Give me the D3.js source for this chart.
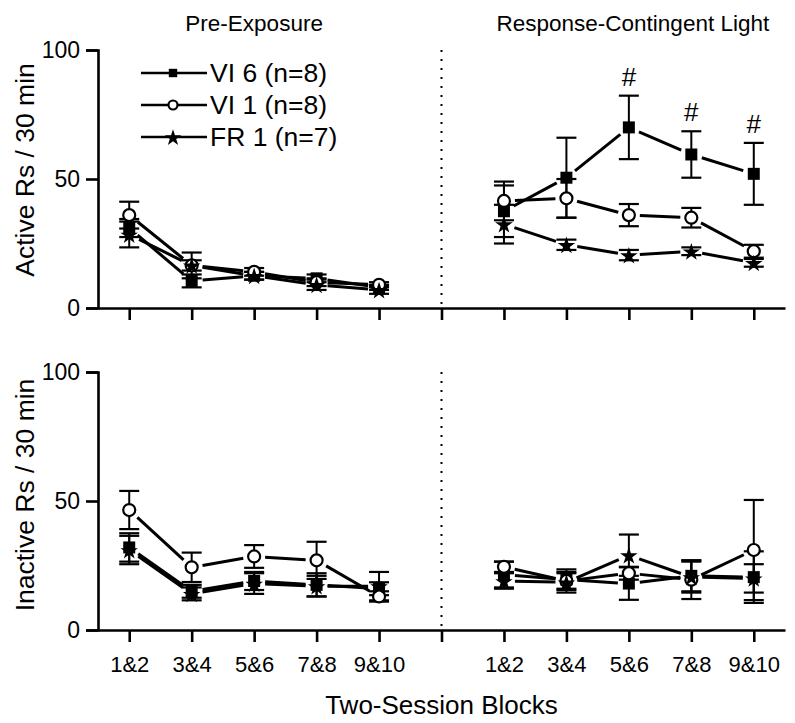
<!DOCTYPE html>
<html>
<head>
<meta charset="utf-8">
<script src="https://cdn.jsdelivr.net/npm/d3@7"></script>
<style>
  html, body { margin: 0; padding: 0; background: #fff; }
  svg { display: block; font-family: "Liberation Sans", Arial, sans-serif; }
</style>
</head>
<body>
<svg id="chart" width="795" height="723"></svg>
<script>
// ---------------- DATA ----------------
const blocks = ["1&2", "3&4", "5&6", "7&8", "9&10"];
const phases = ["Pre-Exposure", "Response-Contingent Light"];
const seriesNames = ["VI 6 (n=8)", "VI 1 (n=8)", "FR 1 (n=7)"];
const yTicks = [0, 50, 100];
const yLabels = ["Active Rs / 30 min", "Inactive Rs / 30 min"];
const xTitle = "Two-Session Blocks";

// Active responses, Pre-Exposure
const actPreVI6 = [31, 10.5, 12.5, 11.5, 8];
const actPreVI6Sem = [3.5, 2.5, 1.5, 1.5, 1];
const actPreVI1 = [36, 16.5, 14, 10, 9];
const actPreVI1Sem = [5.2, 5, 1.5, 1.5, 1];
const actPreFR1 = [28.5, 16.5, 12.5, 9, 7];
const actPreFR1Sem = [5, 2, 1.5, 2, 1.5];

// Active responses, Response-Contingent Light
const actRclVI6 = [37.5, 50.5, 70, 59.5, 52];
const actRclVI6Sem = [10, 15.5, 12.3, 9, 12];
const actRclVI1 = [41.5, 42.5, 36, 35, 22];
const actRclVI1Sem = [7.5, 7.5, 4.3, 3.8, 2.5];
const actRclFR1 = [32.5, 24.5, 20.5, 22, 17.5];
const actRclFR1Sem = [7.5, 2, 2, 1.5, 1.5];

// Inactive responses, Pre-Exposure
const inaPreVI6 = [32, 15, 19, 17.5, 16];
const inaPreVI6Sem = [5.5, 2.5, 3.5, 4.5, 2.5];
const inaPreVI1 = [46.5, 24.3, 28.5, 27, 13];
const inaPreVI1Sem = [7.4, 5.7, 4.4, 7.2, 2];
const inaPreFR1 = [31, 14, 18, 17, 17];
const inaPreFR1Sem = [5.5, 2.5, 4, 4, 5.5];

// Inactive responses, Response-Contingent Light
const inaRclVI6 = [21.5, 19.5, 18, 21, 20.5];
const inaRclVI6Sem = [5, 4, 6.3, 6, 10];
const inaRclVI1 = [24.5, 19, 22, 19.5, 31];
const inaRclVI1Sem = [2, 3, 2.5, 7.5, 19.4];
const inaRclFR1 = [19, 18.5, 29, 20.5, 20];
const inaRclFR1Sem = [3, 4, 8, 6, 5.5];

// "#" marks on VI 6, active, Response-Contingent Light (block indices)
const sigBlocks = [2, 3, 4];

// ---------------- DRAWING ----------------
const svg = d3.select("#chart");
const font = '"Liberation Sans", Arial, sans-serif';

const x = d3.scaleLinear().domain([-0.5, 10.5]).range([98, 785]);
const yTop = d3.scaleLinear().domain([0, 100]).range([308, 50]);
const yBot = d3.scaleLinear().domain([0, 100]).range([630, 372]);

const shapes = ["square", "circle", "star"];

function drawMarker(g, shape, cx, cy, scale) {
  scale = scale || 1;
  if (shape === "square") {
    g.append("path").attr("d", d3.symbol(d3.symbolSquare, 144 * scale * scale)())
      .attr("transform", `translate(${cx},${cy})`).attr("fill", "#000");
  } else if (shape === "circle") {
    g.append("circle").attr("cx", cx).attr("cy", cy).attr("r", 6 * scale)
      .attr("fill", "#fff").attr("stroke", "#000").attr("stroke-width", 2.2);
  } else {
    g.append("path").attr("d", d3.symbol(d3.symbolStar, 95 * scale * scale)())
      .attr("transform", `translate(${cx},${cy + 1})`).attr("fill", "#000");
  }
}

function drawPanel(y, phaseSets, showXLabels, yLabel, yLabelCenter) {
  const g = svg.append("g");
  // y axis
  const yAxis = d3.axisLeft(y).tickValues(yTicks).tickSize(12).tickPadding(6);
  const ya = g.append("g").attr("transform", `translate(${x.range()[0]},0)`).call(yAxis);
  ya.select(".domain").attr("stroke-width", 2.6);
  ya.selectAll(".tick line").attr("stroke-width", 2.6);
  ya.selectAll(".tick text").attr("font-size", 23).attr("font-family", font).attr("fill", "#000");

  // x axis
  const xAxis = d3.axisBottom(x).tickValues(d3.range(0, 11)).tickSize(12).tickSizeOuter(0)
    .tickFormat(d => {
      if (!showXLabels || d === 5) return "";
      return d < 5 ? blocks[d] : blocks[d - 6];
    }).tickPadding(14);
  const xa = g.append("g").attr("transform", `translate(0,${y(0)})`).call(xAxis);
  xa.select(".domain").attr("stroke-width", 2.6);
  xa.selectAll(".tick line").attr("stroke-width", 2.6);
  xa.selectAll(".tick text").attr("font-size", 22).attr("font-family", font).attr("fill", "#000");

  // dotted separator
  g.append("line").attr("x1", x(5)).attr("x2", x(5)).attr("y1", y(100)).attr("y2", y(0) - 2)
    .attr("stroke", "#000").attr("stroke-width", 2).attr("stroke-dasharray", "2,7");

  // y label
  g.append("text").attr("transform", `translate(25,${yLabelCenter}) rotate(-90)`)
    .attr("text-anchor", "middle").attr("dominant-baseline", "central")
    .attr("font-size", 26.5).attr("font-family", font).text(yLabel);

  phaseSets.forEach((sets, pi) => {
    const off = pi === 0 ? 0 : 6;
    // lines with gaps near markers
    sets.forEach(s => {
      const pts = s.vals.map((v, i) => [x(i + off), y(v)]);
      for (let i = 0; i < pts.length - 1; i++) {
        const [x1, y1] = pts[i], [x2, y2] = pts[i + 1];
        const dx = x2 - x1, dy = y2 - y1, len = Math.hypot(dx, dy);
        const gap = 11;
        const ux = dx / len, uy = dy / len;
        g.append("path").attr("d", d3.line()([[x1 + ux * gap, y1 + uy * gap], [x2 - ux * gap, y2 - uy * gap]]))
          .attr("stroke", "#000").attr("stroke-width", 3).attr("fill", "none");
      }
    });
    // error bars
    sets.forEach(s => {
      s.vals.forEach((v, i) => {
        const cx = x(i + off);
        const e = s.sem[i];
        g.append("line").attr("x1", cx).attr("x2", cx).attr("y1", y(v + e)).attr("y2", y(v - e))
          .attr("stroke", "#000").attr("stroke-width", 2);
        [v + e, v - e].forEach(t => {
          g.append("line").attr("x1", cx - 10).attr("x2", cx + 10).attr("y1", y(t)).attr("y2", y(t))
            .attr("stroke", "#000").attr("stroke-width", 2.2);
        });
      });
    });
    // markers
    sets.forEach((s, si) => {
      s.vals.forEach((v, i) => drawMarker(g, shapes[si], x(i + off), y(v)));
    });
  });
  return g;
}

drawPanel(yTop, [
  [{vals: actPreVI6, sem: actPreVI6Sem}, {vals: actPreVI1, sem: actPreVI1Sem}, {vals: actPreFR1, sem: actPreFR1Sem}],
  [{vals: actRclVI6, sem: actRclVI6Sem}, {vals: actRclVI1, sem: actRclVI1Sem}, {vals: actRclFR1, sem: actRclFR1Sem}]
], false, yLabels[0], 170);

drawPanel(yBot, [
  [{vals: inaPreVI6, sem: inaPreVI6Sem}, {vals: inaPreVI1, sem: inaPreVI1Sem}, {vals: inaPreFR1, sem: inaPreFR1Sem}],
  [{vals: inaRclVI6, sem: inaRclVI6Sem}, {vals: inaRclVI1, sem: inaRclVI1Sem}, {vals: inaRclFR1, sem: inaRclFR1Sem}]
], true, yLabels[1], 495);

// significance marks
sigBlocks.forEach(i => {
  svg.append("text").attr("x", x(i + 6)).attr("y", yTop(actRclVI6[i] + actRclVI6Sem[i]) - 10)
    .attr("text-anchor", "middle").attr("font-size", 26).attr("font-family", font).text("#");
});

// phase titles
svg.append("text").attr("x", x(2)).attr("y", 31).attr("text-anchor", "middle")
  .attr("font-size", 22.5).attr("font-family", font).text(phases[0]);
svg.append("text").attr("x", x(8) + 4).attr("y", 31).attr("text-anchor", "middle")
  .attr("font-size", 22.5).attr("font-family", font).text(phases[1]);

// x title
svg.append("text").attr("x", x(5)).attr("y", 714).attr("text-anchor", "middle")
  .attr("font-size", 26).attr("font-family", font).text(xTitle);

// legend
const legY = [73, 105, 137];
seriesNames.forEach((name, i) => {
  const lg = svg.append("g");
  lg.append("line").attr("x1", 141).attr("x2", 207).attr("y1", legY[i]).attr("y2", legY[i])
    .attr("stroke", "#000").attr("stroke-width", 2.4);
  drawMarker(lg, shapes[i], 173, legY[i], i === 0 ? 0.7 : (i === 1 ? 0.75 : 0.95));
  lg.append("text").attr("x", 210).attr("y", legY[i]).attr("dominant-baseline", "central")
    .attr("font-size", 26.5).attr("font-family", font).text(name);
});
</script>
</body>
</html>
